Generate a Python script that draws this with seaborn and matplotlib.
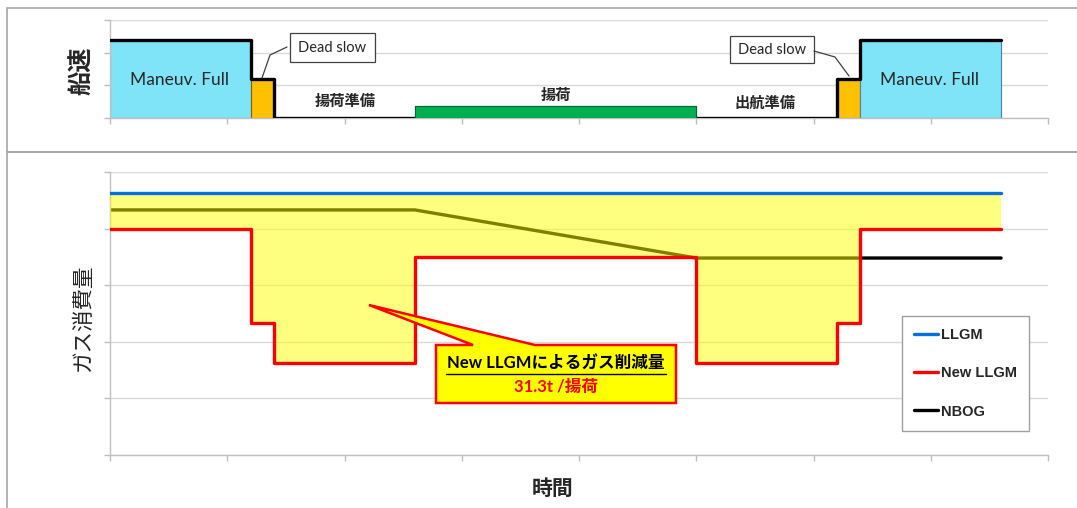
import matplotlib
matplotlib.use("Agg")
import matplotlib.pyplot as plt
from matplotlib.patches import Rectangle, Polygon
from matplotlib.lines import Line2D
import seaborn as sns
import pandas as pd

# ---------------- data ----------------
phase_edges = [0, 1.2, 1.4, 2.6, 5.0, 6.2, 6.4, 7.6]
phase_names = ["Maneuv. Full", "Dead slow", "揚荷準備", "揚荷", "出航準備", "Dead slow", "Maneuv. Full"]
ship_speed = [2.4, 1.2, 0, 0, 0, 1.2, 2.4]
cargo_bar = [0, 0, 0, 0.37, 0, 0, 0]
phase_colors = ["#7FE4F8", "#FFC000", "#FFFFFF", "#00B050", "#FFFFFF", "#FFC000", "#7FE4F8"]

llgm = [4.63, 4.63, 4.63, 4.63, 4.63, 4.63, 4.63]
new_llgm = [4.0, 2.33, 1.62, 3.5, 1.62, 2.33, 4.0]
nbog_x = [0, 2.6, 5.0, 7.6]
nbog_y = [4.33, 4.33, 3.48, 3.48]

saving_label = "New LLGMによるガス削減量"
saving_value = "31.3t /揚荷"

# ---------------- style ----------------
sns.set_theme(style="white")
plt.rcParams["font.family"] = ["Liberation Sans", "Noto Sans CJK JP", "DejaVu Sans"]
JP = ["Noto Sans CJK JP", "DejaVu Sans"]
LAT = ["Lato", "Noto Sans CJK JP"]

W, H = 1077, 508
fig = plt.figure(figsize=(W / 100, H / 100), dpi=100)
fig.patch.set_facecolor("white")


def fx(px):
    return px / W


def fy(py):
    return 1 - py / H


GRID = "#D9D9D9"
AX = "#BFBFBF"


def style_axes(ax, ymax):
    ax.set_xlim(0, 8)
    ax.set_ylim(0, ymax)
    ax.set_xticks(range(0, 9))
    ax.set_yticks(range(0, ymax + 1))
    ax.set_xticklabels([])
    ax.set_yticklabels([])
    ax.grid(axis="y", color=GRID, lw=1.0)
    ax.grid(axis="x", visible=False)
    for s in ["top", "right"]:
        ax.spines[s].set_visible(False)
    for s in ["left", "bottom"]:
        ax.spines[s].set_color(AX)
        ax.spines[s].set_linewidth(1.0)
    ax.tick_params(axis="both", which="both", direction="out", length=4,
                   width=1, color=AX, left=True, bottom=True)
    ax.set_xlabel("")
    ax.set_ylabel("")
    ax.set_axisbelow(True)


# ---------------- panel frames ----------------
fig.add_artist(Rectangle((fx(7), fy(152)), fx(1100) - fx(7), fy(8) - fy(152),
                         transform=fig.transFigure, fill=False, ec="#A6A6A6", lw=1.2))
fig.add_artist(Rectangle((fx(7), fy(520)), fx(1100) - fx(7), fy(152) - fy(520),
                         transform=fig.transFigure, fill=False, ec="#A6A6A6", lw=1.2))

# ---------------- top panel: ship speed ----------------
ax1 = fig.add_axes([fx(110), fy(118), fx(1048) - fx(110), fy(20) - fy(118)])
style_axes(ax1, 3)
lefts = phase_edges[:-1]
widths = [b - a for a, b in zip(phase_edges[:-1], phase_edges[1:])]
bar_h = [max(s, c) for s, c in zip(ship_speed, cargo_bar)]
edgecols = ["#4A7EBB", "#7F6000", "none", "#006B2E", "none", "#7F6000", "#4A7EBB"]
ax1.bar(lefts, bar_h, width=widths, align="edge", color=phase_colors,
        edgecolor=edgecols, linewidth=0.8, zorder=2)
spd = pd.DataFrame({"t": phase_edges, "v": ship_speed + [ship_speed[-1]]})
sns.lineplot(data=spd, x="t", y="v", ax=ax1, color="black", lw=2.4,
             estimator=None, drawstyle="steps-post", zorder=3)
# redraw cargo bar above the speed line
ax1.bar([lefts[3]], [cargo_bar[3]], width=[widths[3]], align="edge",
        color=phase_colors[3], edgecolor=edgecols[3], linewidth=0.8, zorder=4)
style_axes(ax1, 3)

# phase texts
fig.text(fx(179), fy(80), phase_names[0], ha="center", va="center", fontsize=12.5, family=LAT)
fig.text(fx(930), fy(80), phase_names[6], ha="center", va="center", fontsize=12.5, family=LAT)
fig.text(fx(345), fy(101), phase_names[2], ha="center", va="center", fontsize=11,
         family=JP, weight="bold")
fig.text(fx(556), fy(95), phase_names[3], ha="center", va="center", fontsize=11,
         family=JP, weight="bold")
fig.text(fx(765), fy(103), phase_names[4], ha="center", va="center", fontsize=11,
         family=JP, weight="bold")

# dead slow callouts
for (x0, y0, x1, y1), path in [
    ((290, 33, 375, 62), [(287, 47), (270, 55), (262, 78)]),
    ((730, 36, 814, 63), [(814, 51), (835, 57), (849, 76)]),
]:
    fig.add_artist(Rectangle((fx(x0), fy(y1)), fx(x1) - fx(x0), fy(y0) - fy(y1),
                             transform=fig.transFigure, fc="white", ec="#404040", lw=0.9))
    fig.text(fx((x0 + x1) / 2), fy((y0 + y1) / 2 + 0.5), phase_names[1], ha="center",
             va="center", fontsize=10.5, family=LAT)
    fig.add_artist(Line2D([fx(p[0]) for p in path], [fy(p[1]) for p in path],
                          transform=fig.transFigure, color="#404040", lw=0.9))

fig.text(fx(82), fy(71), "船速", rotation=90, ha="center", va="center", fontsize=17.5,
         family=JP, weight="bold")

# ---------------- bottom panel: gas consumption ----------------
ax2 = fig.add_axes([fx(110), fy(455), fx(1048) - fx(110), fy(172) - fy(455)])
style_axes(ax2, 5)

nb = pd.DataFrame({"t": nbog_x, "v": nbog_y})
sns.lineplot(data=nb, x="t", y="v", ax=ax2, color="black", lw=2.4, estimator=None,
             zorder=2, label="NBOG", legend=False)
ax2.fill_between(phase_edges, llgm + [llgm[-1]], new_llgm + [new_llgm[-1]], step="post",
                 color="#FFFF00", alpha=0.5, lw=0, zorder=3)
nl = pd.DataFrame({"t": phase_edges, "v": new_llgm + [new_llgm[-1]]})
sns.lineplot(data=nl, x="t", y="v", ax=ax2, color="#FF0000", lw=2.4, estimator=None,
             drawstyle="steps-post", zorder=4, label="New LLGM", legend=False)
ll = pd.DataFrame({"t": phase_edges, "v": llgm + [llgm[-1]]})
sns.lineplot(data=ll, x="t", y="v", ax=ax2, color="#0070E0", lw=2.4, estimator=None,
             drawstyle="steps-post", zorder=5, label="LLGM", legend=False)
style_axes(ax2, 5)

handles = [Line2D([], [], color="#0070E0", lw=2.4),
           Line2D([], [], color="#FF0000", lw=2.4),
           Line2D([], [], color="black", lw=2.4)]
leg = ax2.legend(handles, ["LLGM", "New LLGM", "NBOG"], loc="upper left",
                 bbox_to_anchor=(fx(902), fy(316)), bbox_transform=fig.transFigure,
                 frameon=True, fancybox=False, framealpha=1, edgecolor="#A0A0A0",
                 prop={"family": "Liberation Sans", "weight": "bold", "size": 10.5},
                 handlelength=1.6, handletextpad=0.2, labelspacing=1.65,
                 borderpad=0.85, borderaxespad=0)
leg.get_frame().set_linewidth(1.0)
leg.set_zorder(10)

# callout
pts = [(436, 345), (473, 345), (369, 305), (535, 345), (676, 345), (676, 403), (436, 403)]
fig.add_artist(Polygon([(fx(a), fy(b)) for a, b in pts], closed=True,
                       transform=fig.transFigure, fc="#FFFF00", ec="#FF0000", lw=1.8,
                       joinstyle="miter", zorder=20))
fig.text(fx(556), fy(364), saving_label, ha="center", va="center", fontsize=12,
         family=LAT, weight="bold", color="black", zorder=21)
fig.add_artist(Line2D([fx(446), fx(666)], [fy(374), fy(374)], transform=fig.transFigure,
                      color="black", lw=1.0, zorder=21))
fig.text(fx(556), fy(387), saving_value, ha="center", va="center", fontsize=12,
         family=LAT, weight="bold", color="#FF0000", zorder=21)

fig.text(fx(83), fy(318), "ガス消費量", rotation=90, ha="center", va="center",
         fontsize=15.5, family=JP)
fig.text(fx(553), fy(488), "時間", ha="center", va="center", fontsize=15, family=JP,
         weight="bold")

fig.savefig("out.png", dpi=100, facecolor="white")
